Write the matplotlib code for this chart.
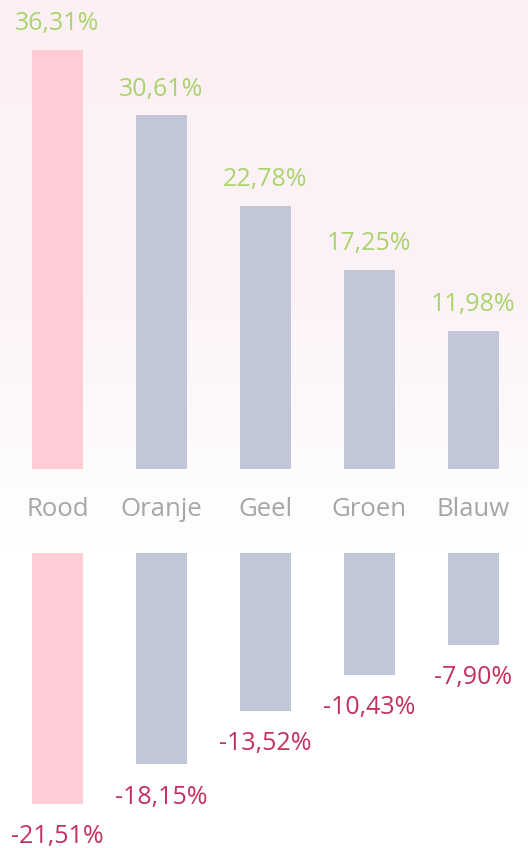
import numpy as np
import matplotlib.pyplot as plt
from matplotlib.colors import LinearSegmentedColormap

categories = ["Rood", "Oranje", "Geel", "Groen", "Blauw"]
gains = [36.31, 30.61, 22.78, 17.25, 11.98]
losses = [-21.51, -18.15, -13.52, -10.43, -7.90]

plt.rcParams["font.family"] = ["Open Sans", "DejaVu Sans"]

PINK = "#ffcdd3"
GREY = "#c2c7d7"
GREEN = "#a9d46e"
CRIMSON = "#c3325c"
LABEL_GREY = "#a6a6a6"


def fmt(v):
    return f"{v:.2f}%".replace(".", ",")


fig = plt.figure(figsize=(5.28, 8.48), dpi=100)

# faint pink wash behind the chart, fading out towards the bottom
bg = fig.add_axes([0, 0, 1, 1], zorder=0)
cmap = LinearSegmentedColormap.from_list(
    "wash", [(0, "#fcf0f4"), (0.35, "#fcf3f6"), (0.65, "#ffffff"), (1, "#ffffff")])
grad = np.linspace(0, 1, 256).reshape(-1, 1)
bg.imshow(grad, aspect="auto", cmap=cmap, extent=[0, 1, 0, 1], origin="upper")
bg.axis("off")

colors = [PINK] + [GREY] * (len(categories) - 1)
x = np.arange(len(categories))
xlim = (-0.553, 4.528)

# top panel: gains
ax1 = fig.add_axes([0, (848 - 469) / 848, 1, 469 / 848], zorder=1)
ax1.patch.set_alpha(0)
ax1.bar(x, gains, width=0.49, color=colors)
ax1.set_xlim(*xlim)
ax1.set_ylim(0, 469 / 11.55)
for xi, v in zip(x, gains):
    ax1.annotate(fmt(v), (xi, v), xytext=(0, 19), textcoords="offset points",
                 ha="center", va="center", color=GREEN, fontsize=18)
ax1.set_xticks(x)
ax1.set_xticklabels(categories, color=LABEL_GREY, fontsize=18.5)
ax1.tick_params(axis="x", length=0, pad=20)
ax1.set_yticks([])
for s in ax1.spines.values():
    s.set_visible(False)

# bottom panel: losses
ax2 = fig.add_axes([0, 0, 1, (848 - 553) / 848], zorder=1)
ax2.patch.set_alpha(0)
ax2.bar(x, losses, width=0.49, color=colors)
ax2.set_xlim(*xlim)
ax2.set_ylim(-295 / 11.65, 0)
for xi, v in zip(x, losses):
    ax2.annotate(fmt(v), (xi, v), xytext=(0, -23.5), textcoords="offset points",
                 ha="center", va="center", color=CRIMSON, fontsize=18,
                 annotation_clip=False)
ax2.set_xticks([])
ax2.set_yticks([])
for s in ax2.spines.values():
    s.set_visible(False)

fig.savefig("out.png", dpi=100)
